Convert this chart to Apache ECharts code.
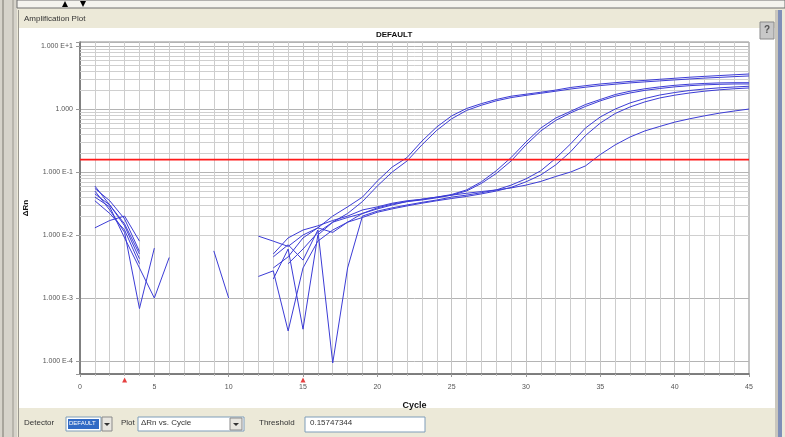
<!DOCTYPE html>
<html>
<head>
<meta charset="utf-8">
<script src="https://cdn.jsdelivr.net/npm/echarts@6/dist/echarts.min.js"></script>
<style>
html,body{margin:0;padding:0;background:#ece9d8;}
#chart{width:785px;height:437px;}
</style>
</head>
<body>
<div id="chart"></div>
<script>
// ---- data (ΔRn per cycle, null = not plotted / non-positive) ----
var cycles = [1,2,3,4,5,6,7,8,9,10,11,12,13,14,15,16,17,18,19,20,21,22,23,24,25,26,27,28,29,30,31,32,33,34,35,36,37,38,39,40,41,42,43,44,45];
var sample1 = [0.055,0.035,0.018,0.0055,null,null,null,null,null,null,null,null,0.003,0.0045,0.009,0.013,0.02,0.028,0.040,0.072,0.12,0.17,0.31,0.52,0.78,1.02,1.22,1.42,1.6,1.72,1.85,2.0,2.2,2.35,2.5,2.62,2.75,2.85,2.97,3.08,3.2,3.3,3.4,3.5,3.6];
var sample2 = [0.045,0.03,0.014,0.0042,null,null,null,null,null,null,null,null,null,0.0035,0.006,0.011,0.016,0.022,0.034,0.06,0.10,0.15,0.27,0.46,0.70,0.95,1.15,1.35,1.52,1.65,1.78,1.92,2.08,2.22,2.36,2.48,2.6,2.7,2.8,2.9,3.0,3.1,3.18,3.27,3.35];
var sample3 = [0.05,0.025,0.011,0.00068,0.0062,null,null,null,null,null,null,null,0.005,0.009,0.012,0.014,0.017,0.02,0.025,0.028,0.032,0.035,0.037,0.040,0.044,0.052,0.07,0.105,0.17,0.30,0.50,0.72,0.92,1.18,1.42,1.7,1.92,2.1,2.25,2.38,2.48,2.55,2.6,2.62,2.62];
var sample4 = [0.04,0.028,0.009,0.003,0.001,0.0044,null,null,null,null,null,null,0.002,0.006,0.00032,0.01,0.016,0.019,0.022,0.026,0.03,0.034,0.036,0.039,0.043,0.05,0.066,0.095,0.15,0.27,0.45,0.66,0.87,1.1,1.35,1.6,1.8,1.98,2.12,2.25,2.35,2.42,2.47,2.5,2.5];
var sample5 = [0.06,0.03,0.015,0.005,null,null,null,null,0.0056,0.001,null,null,0.0045,0.007,0.004,0.012,0.000093,0.003,0.02,0.024,0.027,0.03,0.033,0.036,0.04,0.043,0.047,0.052,0.062,0.078,0.105,0.165,0.28,0.5,0.75,1.0,1.25,1.47,1.67,1.83,1.97,2.08,2.17,2.24,2.3];
var sample6 = [0.013,0.017,0.02,0.008,null,null,null,null,null,null,null,0.0096,0.008,0.0066,0.01,0.013,0.011,0.016,0.019,0.023,0.026,0.029,0.032,0.035,0.038,0.041,0.045,0.05,0.057,0.07,0.09,0.13,0.21,0.38,0.6,0.85,1.08,1.3,1.5,1.66,1.8,1.92,2.02,2.1,2.16];
var sample7 = [0.035,0.022,0.012,0.0035,null,null,null,null,null,null,null,0.0022,0.0027,0.0003,0.003,0.008,0.012,0.016,0.022,0.027,0.031,0.034,0.037,0.04,0.043,0.046,0.049,0.052,0.056,0.062,0.071,0.085,0.10,0.125,0.19,0.27,0.36,0.45,0.53,0.62,0.7,0.78,0.86,0.93,1.0];
var samples = [sample1,sample2,sample3,sample4,sample5,sample6,sample7];
var threshold = 0.15747344;
var baselineMarks = [3, 15];
var minorGridValues = [0.0002,0.0003,0.0004,0.0005,0.0006,0.0007,0.0008,0.0009,
  0.002,0.003,0.004,0.005,0.006,0.007,0.008,0.009,
  0.02,0.03,0.04,0.05,0.06,0.07,0.08,0.09,
  0.2,0.3,0.4,0.5,0.6,0.7,0.8,0.9,
  2,3,4,5,6,7,8,9];
var yTickLabels = {'1':'1.000 E+1','0':'1.000','-1':'1.000 E-1','-2':'1.000 E-2','-3':'1.000 E-3','-4':'1.000 E-4'};
var plotTitle = 'DEFAULT';
var xName = 'Cycle', yName = '\u0394Rn';

var xMin = 0, xMax = 45;
var yMin = 6.22e-5, yMax = 11.6;

var chart = echarts.init(document.getElementById('chart'), null, {renderer:'canvas'});

var series = samples.map(function(s){
  return {
    type:'line', showSymbol:false, connectNulls:false, silent:true,
    data: cycles.map(function(c,i){ return [c, s[i]]; }),
    color:'#3c3cd6',
    lineStyle:{color:'#3c3cd6', width:1}, z:5
  };
});
series.unshift({
  type:'line', data:[], silent:true, z:1, color:'#cfcfcf',
  markLine:{ silent:true, symbol:'none', animation:false, label:{show:false},
    lineStyle:{color:'#cfcfcf', width:1, type:'solid'},
    data: minorGridValues.map(function(v){ return {yAxis:v}; }) }
});
// threshold line
series.push({
  type:'line', showSymbol:false, silent:true, z:6, color:'#ff1a1a',
  data:[[xMin, threshold],[xMax, threshold]],
  lineStyle:{color:'#ff1a1a', width:1.6}
});
// baseline start/end markers
series.push({
  type:'scatter', silent:true, z:7, clip:false, symbol:'triangle', symbolSize:[5,5], symbolOffset:[0,6],
  itemStyle:{color:'#e01010'},
  data: baselineMarks.map(function(c){ return [c, yMin]; })
});

var F = 'Liberation Sans, Arial, sans-serif';
function txt(x,y,t,opt){ opt=opt||{}; return {type:'text', z:opt.z||50, left:x, top:y, style:{text:t, fontFamily:F, fontSize:opt.size||8, fill:opt.color||'#222', fontWeight:opt.weight||'normal'}}; }

var graphic = [
  // left frame strips
  {type:'rect', z:-5, shape:{x:0,y:0,width:17,height:437}, style:{fill:'#d6d3ca'}},
  {type:'rect', z:-4, shape:{x:2,y:0,width:2,height:437}, style:{fill:'#a8a59c'}},
  {type:'rect', z:-4, shape:{x:12,y:0,width:2,height:437}, style:{fill:'#b8b5ac'}},
  // top strip
  {type:'rect', z:-4, shape:{x:17,y:0,width:768,height:8}, style:{fill:'#f4f3ee', stroke:'#6e6e6e', lineWidth:1}},
  {type:'polygon', z:-3, shape:{points:[[62,7],[68,7],[65,1]]}, style:{fill:'#000'}},
  {type:'polygon', z:-3, shape:{points:[[80,1],[86,1],[83,7]]}, style:{fill:'#000'}},
  // main white panel
  {type:'rect', z:-4, shape:{x:18,y:28,width:757,height:380}, style:{fill:'#ffffff'}},
  {type:'rect', z:-4, shape:{x:18,y:10,width:1,height:427}, style:{fill:'#9a978e'}},
  {type:'rect', z:-4, shape:{x:775,y:10,width:3,height:427}, style:{fill:'#c9c6bd'}},
  {type:'rect', z:-4, shape:{x:778,y:10,width:4,height:427}, style:{fill:'#7f8fb8'}},
  // help button
  {type:'rect', z:-3, shape:{x:760,y:22,width:14,height:17}, style:{fill:'#c8c8c8', stroke:'#8a8a8a', lineWidth:1}},
  txt(764,25,'?',{size:10,weight:'bold',color:'#555'}),
  txt(24,15,'Amplification Plot',{size:8,color:'#333'}),
  txt(376,31,plotTitle,{size:8,weight:'bold',color:'#111'}),
  // bottom controls
  txt(24,419,'Detector',{size:8,color:'#333'}),
  {type:'rect', z:40, shape:{x:66,y:417,width:35,height:14}, style:{fill:'#ffffff', stroke:'#7f9db9', lineWidth:1}},
  {type:'rect', z:41, shape:{x:68,y:419,width:31,height:10}, style:{fill:'#316ac5'}},
  txt(69,420,'DEFAULT',{size:6,color:'#ffffff'}),
  {type:'rect', z:40, shape:{x:102,y:417,width:10,height:14}, style:{fill:'#e8e6e0', stroke:'#8a8a8a', lineWidth:1}},
  {type:'polygon', z:42, shape:{points:[[104,423],[110,423],[107,426]]}, style:{fill:'#333'}},
  txt(121,419,'Plot',{size:8,color:'#333'}),
  {type:'rect', z:40, shape:{x:138,y:417,width:106,height:14}, style:{fill:'#ffffff', stroke:'#7f9db9', lineWidth:1}},
  txt(141,419,'\u0394Rn vs. Cycle',{size:8,color:'#333'}),
  {type:'rect', z:41, shape:{x:230,y:418,width:12,height:12}, style:{fill:'#e8e6e0', stroke:'#8a8a8a', lineWidth:1}},
  {type:'polygon', z:42, shape:{points:[[233,423],[239,423],[236,426]]}, style:{fill:'#333'}},
  txt(259,419,'Threshold',{size:8,color:'#333'}),
  {type:'rect', z:40, shape:{x:305,y:417,width:120,height:15}, style:{fill:'#ffffff', stroke:'#7f9db9', lineWidth:1}},
  txt(310,419,'0.15747344',{size:8,color:'#333'})
];

var option = {
  backgroundColor:'#ece9d8',
  animation:false,
  graphic: graphic,
  grid:{left:80, right:36, top:42, bottom:63, show:true, backgroundColor:'#ffffff', borderColor:'#8a8a8a', borderWidth:1},
  xAxis:{
    type:'value', min:xMin, max:xMax, interval:5,
    name:xName, nameLocation:'middle', nameGap:27,
    nameTextStyle:{fontFamily:F, fontSize:9, fontWeight:'bold', color:'#111'},
    axisLine:{show:true, lineStyle:{color:'#6a6a6a', width:1.5}},
    axisTick:{show:true, length:3, lineStyle:{color:'#999'}},
    minorTick:{show:true, splitNumber:5, length:2, lineStyle:{color:'#bbb'}},
    axisLabel:{fontFamily:F, fontSize:7, color:'#555', margin:10},
    splitLine:{show:true, lineStyle:{color:'#c4c4c4', width:1}},
    minorSplitLine:{show:true, lineStyle:{color:'#cdcdcd', width:1}}
  },
  yAxis:{
    type:'log', logBase:10, min:yMin, max:yMax,
    name:yName, nameLocation:'middle', nameGap:46, nameRotate:90,
    nameTextStyle:{fontFamily:F, fontSize:8, fontWeight:'bold', color:'#111'},
    axisLine:{show:true, lineStyle:{color:'#6a6a6a', width:1.5}},
    axisTick:{show:true, length:4, lineStyle:{color:'#999'}},
    axisLabel:{fontFamily:F, fontSize:7, color:'#555', margin:7,
      formatter:function(v){
        var l = Math.log(v)/Math.LN10, r = Math.round(l);
        if (Math.abs(l-r) > 0.01) return '';
        return yTickLabels[String(r)] || '';
      }},
    splitLine:{show:true, lineStyle:{color:'#b4b4b4', width:1}}
  },
  series: series
};
chart.setOption(option);
</script>
</body>
</html>
